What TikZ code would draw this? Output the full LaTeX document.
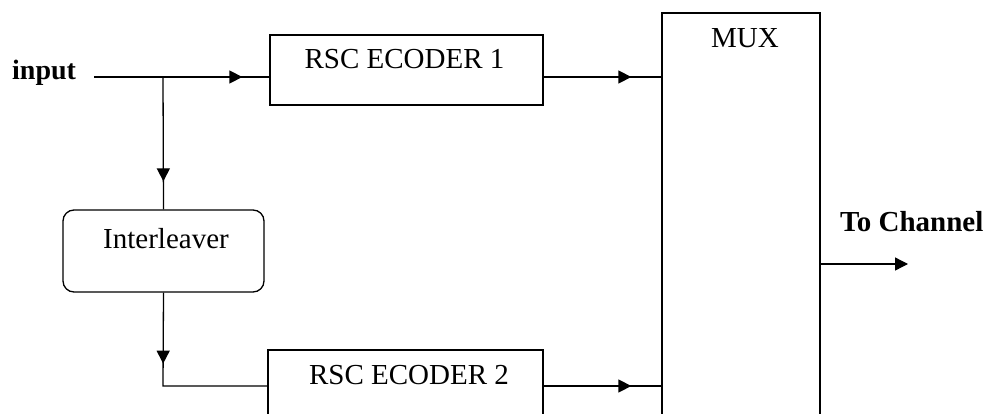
\documentclass[tikz,border=0pt]{standalone}
\usepackage{fontspec}
\setmainfont{Liberation Serif}
\usetikzlibrary{arrows.meta,decorations.markings}
\tikzset{
  blk/.style={draw, line width=1.3pt, rectangle, inner sep=0pt},
  rblk/.style={draw, line width=1.3pt, rectangle, rounded corners=11pt, inner sep=0pt},
  lbl/.style={inner sep=0pt, anchor=base, font=\fontsize{29}{32}\selectfont},
  blbl/.style={inner sep=0pt, anchor=base west, font=\fontsize{28}{32}\selectfont\bfseries},
  wire/.style={line width=1.3pt},
  tipat/.style={postaction={decorate}, decoration={markings,
      mark=at position #1 with {\arrow{Triangle[length=13pt,width=13pt]}}}},
}
\begin{document}
\begin{tikzpicture}[x=1pt,y=-1pt]
\useasboundingbox (0,0) rectangle (992,414);
\clip (0,0) rectangle (992,414);
\fill[white] (0,0) rectangle (992,414);

% blocks
\node[blk, minimum width=273pt, minimum height=70pt] (enc1) at (406.5,70) {};
\node[blk, minimum width=275pt, minimum height=72pt] (enc2) at (405.5,386) {};
\node[rblk, minimum width=201pt, minimum height=82pt] (il) at (163.5,251) {};
\node[blk, minimum width=158pt, minimum height=440pt] (mux) at (741,233) {};

% block texts
\node[lbl] (t1) at (404.5,69) {RSC ECODER 1};
\node[lbl] (t2) at (409,384) {RSC ECODER 2};
\node[lbl] (til) at (166,248) {Interleaver};
\node[lbl] (tmux) at (745,48) {MUX};

% outer labels
\node[blbl] (lin) at (12,80) {input};
\node[blbl, font=\fontsize{29}{32}\selectfont\bfseries] (lout) at (840,231) {To Channel};

% wiring points
\coordinate (src) at (94,77);
\coordinate (jn) at (163,77);
\coordinate (low) at (163,386);
\coordinate (dst) at (908,264);

% input to encoder 1
\draw[wire, tipat=-27pt] (src) -- (jn -| enc1.west);
% input to interleaver
\draw[wire, tipat=-28pt] (jn) -- (il.north);
% interleaver to encoder 2
\draw[wire, tipat=71pt] (il.south) -- (low) -- (low -| enc2.west);
% encoders to multiplexer
\draw[wire, tipat=-30pt] (jn -| enc1.east) -- (jn -| mux.west);
\draw[wire, tipat=-30pt] (low -| enc2.east) -- (low -| mux.west);
% multiplexer output
\draw[wire, -{Triangle[length=13pt,width=13pt]}] (dst -| mux.east) -- (dst);
\end{tikzpicture}
\end{document}
